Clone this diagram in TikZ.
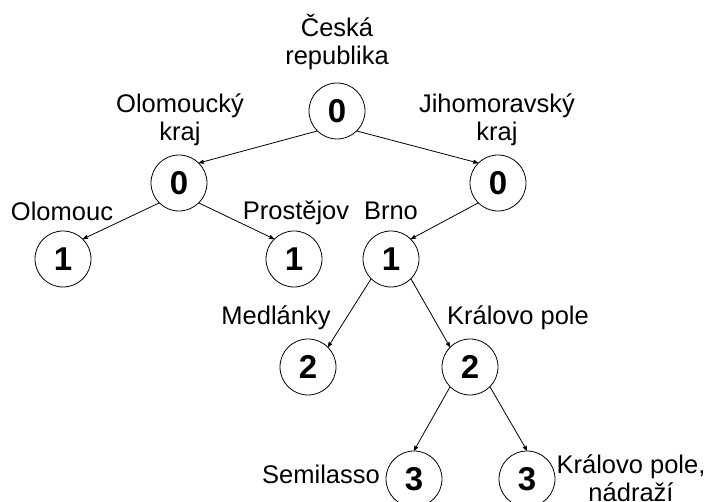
\documentclass[tikz,border=0pt]{standalone}
\usepackage{fontspec}
\setmainfont{Liberation Sans}
\usetikzlibrary{arrows,positioning}

\begin{document}
\begin{tikzpicture}[x=1pt,y=1pt,->,>=stealth',line width=0.8pt,
					level node/.style={draw,circle,minimum size=56pt,inner sep=0pt,
						font=\fontsize{33}{33}\selectfont\bfseries},
					name node/.style={inner sep=0pt,align=center,
						font=\fontsize{25.5}{28}\selectfont}]

					\useasboundingbox (0,0) rectangle (705,502);

					% levels of the areas
					\node[level node] (cr) at (337,391) {0};
					\node[level node] (ol) at (179,319) {0};
					\node[level node] (jm) at (498,319) {0};
					\node[level node] (olc) at (63,243) {1};
					\node[level node] (pv) at (294,243) {1};
					\node[level node] (br) at (391,243) {1};
					\node[level node] (md) at (308,135) {2};
					\node[level node] (kp) at (470,135) {2};
					\node[level node] (sl) at (414,23) {3};
					\node[level node] (kpn) at (527,23) {3};

					% names of the areas
					\node[name node] (crname) at (337,460) {Česká\\republika};
					\node[name node] (olname) at (180,382) {Olomoucký\\kraj};
					\node[name node] (jmname) at (497,382) {Jihomoravský\\kraj};
					\node[name node,anchor=base] (olcname) at (62,281) {Olomouc};
					\node[name node,anchor=base] (pvname) at (296,282) {Prostějov};
					\node[name node,anchor=base] (brname) at (391,282) {Brno};
					\node[name node,anchor=base] (mdname) at (276,177) {Medlánky};
					\node[name node,anchor=base] (kpname) at (518,177) {Královo pole};
					\node[name node,anchor=base] (slname) at (321,18) {Semilasso};
					\node[name node] (kpnname) at (631,24) {Královo pole,\\nádraží};

					\path
					(cr.south west) edge (ol.north east)
					(cr.south east) edge (jm.north west)
					(ol.south west) edge (olc.north east)
					(ol.south east) edge (pv.north west)
					(jm.south west) edge (br.north east)
					(br.south west) edge (md.north east)
					(br.south east) edge (kp.north west)
					(kp.south west) edge (sl.north)
					(kp.south east) edge (kpn.north);

				\end{tikzpicture}
\end{document}
